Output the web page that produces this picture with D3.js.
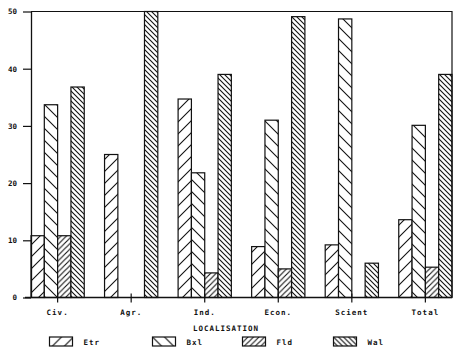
<!DOCTYPE html>
<html><head><meta charset="utf-8">
<script src="https://cdn.jsdelivr.net/npm/d3@7"></script>
<style>
html,body{margin:0;padding:0;background:#fff;}
svg{display:block;}
text{font-family:"DejaVu Sans Mono",monospace;font-weight:bold;fill:#111;}
</style></head>
<body>
<svg id="chart" width="463" height="357"></svg>
<script>
const categories = ["Civ.", "Agr.", "Ind.", "Econ.", "Scient", "Total"];
const seriesNames = ["Etr", "Bxl", "Fld", "Wal"];
const etr = [10.8, 25.0, 34.7, 8.9, 9.2, 13.6];
const bxl = [33.7, 0, 21.8, 31.0, 48.7, 30.1];
const fld = [10.8, 0, 4.3, 5.0, 0, 5.3];
const wal = [36.8, 50.0, 39.0, 49.1, 6.0, 39.0];
const yTicks = [0, 10, 20, 30, 40, 50];
const axisTitle = "LOCALISATION";

const seriesValues = [etr, bxl, fld, wal];

const svg = d3.select("#chart");
const L = 31, R = 452, T = 11.5, B = 297.5;
const ink = "#111";

// patterns
const defs = svg.append("defs");
const patSpec = [
  {id: "p0", dir: "/", p: 12},
  {id: "p1", dir: "\\", p: 12},
  {id: "p2", dir: "/", p: 5.5},
  {id: "p3", dir: "\\", p: 5}
];
patSpec.forEach(s => {
  const pat = defs.append("pattern").attr("id", s.id)
    .attr("patternUnits", "userSpaceOnUse")
    .attr("width", s.p).attr("height", s.p);
  pat.append("rect").attr("width", s.p).attr("height", s.p).attr("fill", "#fff");
  const p = s.p;
  const d = s.dir === "/"
    ? `M-1,1 L1,-1 M0,${p} L${p},0 M${p-1},${p+1} L${p+1},${p-1}`
    : `M-1,${p-1} L1,${p+1} M0,0 L${p},${p} M${p-1},-1 L${p+1},1`;
  pat.append("path").attr("d", d).attr("stroke", ink).attr("stroke-width", 1.1).attr("fill", "none");
});

const x0 = d3.scaleBand().domain(categories).range([L, R]).paddingInner(0.276).paddingOuter(0);
const x1 = d3.scaleBand().domain(seriesNames).range([0, x0.bandwidth()]).padding(0);
const y = d3.scaleLinear().domain([0, 50]).range([B, T]);

// bars
const data = [];
categories.forEach((c, i) => seriesNames.forEach((s, j) => data.push({c, s, j, v: seriesValues[j][i]})));
svg.append("g").selectAll("rect").data(data.filter(d => d.v > 0)).join("rect")
  .attr("x", d => x0(d.c) + x1(d.s))
  .attr("y", d => y(d.v))
  .attr("width", x1.bandwidth())
  .attr("height", d => y(0) - y(d.v))
  .attr("fill", d => `url(#p${d.j})`)
  .attr("stroke", ink).attr("stroke-width", 1.2);

// frame
svg.append("path").attr("d", `M${L},${T} H${R} V${B}`).attr("fill", "none").attr("stroke", ink).attr("stroke-width", 1.2);
svg.append("line").attr("x1", 25).attr("x2", R).attr("y1", B).attr("y2", B).attr("stroke", ink).attr("stroke-width", 1.3);

// y axis
const ya = svg.append("g").attr("transform", `translate(${L},0)`)
  .call(d3.axisLeft(y).tickValues(yTicks).tickSize(8).tickPadding(6).tickSizeOuter(0));
ya.select(".domain").attr("stroke", ink).attr("stroke-width", 1.3);
ya.selectAll(".tick line").attr("stroke", ink).attr("stroke-width", 1.2);
ya.selectAll(".tick text").attr("font-size", 7.5).attr("font-family", "DejaVu Sans Mono").attr("font-weight", "bold").attr("fill", ink);

// x axis
const xa = svg.append("g").attr("transform", `translate(0,${B})`)
  .call(d3.axisBottom(x0).tickSize(5).tickSizeOuter(0));
xa.select(".domain").remove();
xa.selectAll(".tick line").attr("y1", -4).attr("y2", 5).attr("stroke", ink).attr("stroke-width", 1.2);
xa.selectAll(".tick text").attr("y", 17).attr("dy", 0).attr("font-size", 7.5)
  .attr("font-family", "DejaVu Sans Mono").attr("font-weight", "bold").attr("fill", ink)
  .attr("letter-spacing", 1);

// axis title
svg.append("text").attr("x", 226).attr("y", 331).attr("text-anchor", "middle")
  .attr("font-size", 7.5).attr("letter-spacing", 1).text(axisTitle);

// legend
const legX = [49.5, 152.5, 242.5, 333.5];
const leg = svg.append("g").selectAll("g").data(seriesNames).join("g")
  .attr("transform", (d, i) => `translate(${legX[i]},337)`);
leg.append("rect").attr("width", 23).attr("height", 9)
  .attr("fill", (d, i) => `url(#p${i})`).attr("stroke", ink).attr("stroke-width", 1.2);
leg.append("text").attr("x", 34).attr("y", 7.5).attr("font-size", 7.5).attr("letter-spacing", 1).text(d => d);
</script>
</body></html>
